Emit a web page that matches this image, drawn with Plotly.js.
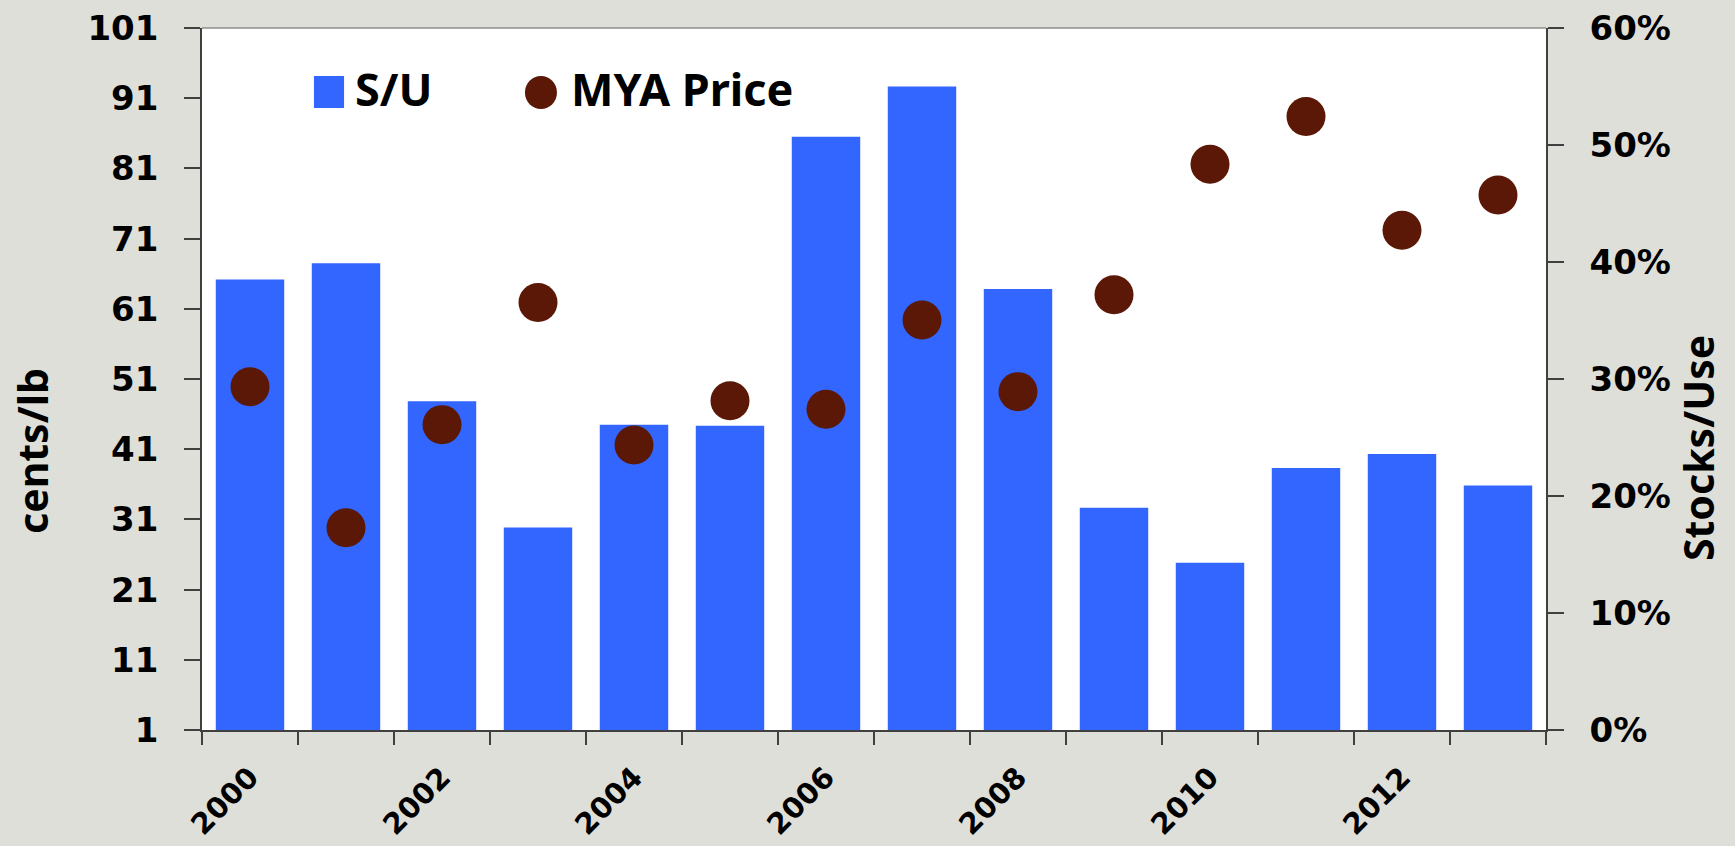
<!DOCTYPE html>
<html>
<head>
<meta charset="utf-8">
<script src="https://cdn.plot.ly/plotly-3.0.1.min.js"></script>
<style>
  html, body { margin: 0; padding: 0; background: #dfdfd9; }
  #chart { width: 1735px; height: 846px; }
</style>
</head>
<body>
<div id="chart"></div>
<script>
// ---- Data ----
const years = ['2000','2001','2002','2003','2004','2005','2006','2007','2008','2009','2010','2011','2012','2013'];
const yearLabels = ['2000','','2002','','2004','','2006','','2008','','2010','','2012',''];
const stocksToUse = [0.385, 0.399, 0.281, 0.173, 0.261, 0.260, 0.507, 0.550, 0.377, 0.190, 0.143, 0.224, 0.236, 0.209];
const myaPrice = [49.9, 29.8, 44.5, 61.9, 41.6, 47.9, 46.7, 59.4, 49.2, 63.0, 81.6, 88.4, 72.2, 77.2];
const seriesNames = ['S/U', 'MYA Price'];
const leftTitle = 'cents/lb';
const rightTitle = 'Stocks/Use';

const blue = '#3366ff';
const brown = '#5b1806';
const tickFont = { family: 'DejaVu Sans, Verdana, sans-serif', size: 34, color: '#000', weight: 'bold' };
const titleFont = { family: 'Noto Sans, Open Sans, sans-serif', size: 41, color: '#000', weight: 'bold' };
const legendFont = { family: 'Noto Sans, Open Sans, sans-serif', size: 45, color: '#000', weight: 'bold' };

const traces = [
  {
    type: 'bar', name: seriesNames[0], x: years, y: stocksToUse,
    xaxis: 'x', yaxis: 'y',
    marker: { color: blue, line: { width: 0 } },
    hoverinfo: 'x+y'
  },
  {
    type: 'scatter', mode: 'markers', name: seriesNames[1], x: years, y: myaPrice,
    xaxis: 'x', yaxis: 'y2',
    marker: { color: brown, size: 39, line: { width: 0 } },
    hoverinfo: 'x+y'
  }
];

const layout = {
  width: 1735, height: 846,
  paper_bgcolor: '#dfdfd9',
  plot_bgcolor: '#ffffff',
  margin: { l: 202, r: 189, t: 28, b: 116, pad: 0 },
  showlegend: false,
  bargap: 0.287,
  xaxis: {
    type: 'category',
    categoryorder: 'array', categoryarray: years,
    range: [-0.5, years.length - 0.5],
    tickmode: 'array', tickvals: years, ticktext: yearLabels,
    tickson: 'boundaries',
    ticks: 'outside', ticklen: 13, tickwidth: 1.5, tickcolor: '#404040',
    showline: true, linecolor: '#404040', linewidth: 1.5,
    showgrid: false, zeroline: false,
    tickangle: -45,
    tickfont: { family: 'DejaVu Sans, Verdana, sans-serif', size: 29, color: '#000', weight: 'bold' },
    ticklabelstandoff: 17
  },
  yaxis: {
    side: 'right',
    range: [0, 0.6],
    tickmode: 'linear', tick0: 0, dtick: 0.1,
    tickformat: '.0%',
    ticks: 'outside', ticklen: 16, tickwidth: 1.5, tickcolor: '#404040',
    showline: true, linecolor: '#404040', linewidth: 1.5,
    showgrid: false, zeroline: false,
    tickfont: tickFont,
    ticklabelstandoff: 19
  },
  yaxis2: {
    overlaying: 'y', side: 'left',
    range: [1, 101],
    tickmode: 'linear', tick0: 1, dtick: 10,
    ticks: 'outside', ticklen: 16, tickwidth: 1.5, tickcolor: '#404040',
    showline: true, linecolor: '#404040', linewidth: 1.5,
    showgrid: false, zeroline: false,
    tickfont: tickFont,
    ticklabelstandoff: 19
  },
  shapes: [
    { type: 'line', xref: 'paper', yref: 'paper', x0: 0, x1: 1, y0: 1, y1: 1,
      line: { color: '#8c8c8c', width: 1.5 } },
    { type: 'rect', xref: 'paper', yref: 'paper', x0: 0.0833, x1: 0.1057, y0: 0.886, y1: 0.9316,
      fillcolor: blue, line: { width: 0 } },
    { type: 'circle', xref: 'paper', yref: 'paper', x0: 0.2403, x1: 0.2641, y0: 0.8846, y1: 0.9316,
      fillcolor: brown, line: { width: 0 } }
  ],
  annotations: [
    { text: seriesNames[0], xref: 'paper', yref: 'paper', x: 0.112, y: 0.914,
      xanchor: 'left', yanchor: 'middle', showarrow: false, font: legendFont },
    { text: seriesNames[1], xref: 'paper', yref: 'paper', x: 0.273, y: 0.914,
      xanchor: 'left', yanchor: 'middle', showarrow: false, font: legendFont },
    { text: leftTitle, xref: 'paper', yref: 'paper', x: -0.126, y: 0.397,
      xanchor: 'center', yanchor: 'middle', textangle: -90, showarrow: false, font: titleFont },
    { text: rightTitle, xref: 'paper', yref: 'paper', x: 1.1131, y: 0.4017,
      xanchor: 'center', yanchor: 'middle', textangle: -90, showarrow: false, font: titleFont }
  ]
};

Plotly.newPlot('chart', traces, layout, { displayModeBar: false, responsive: false });
</script>
</body>
</html>
